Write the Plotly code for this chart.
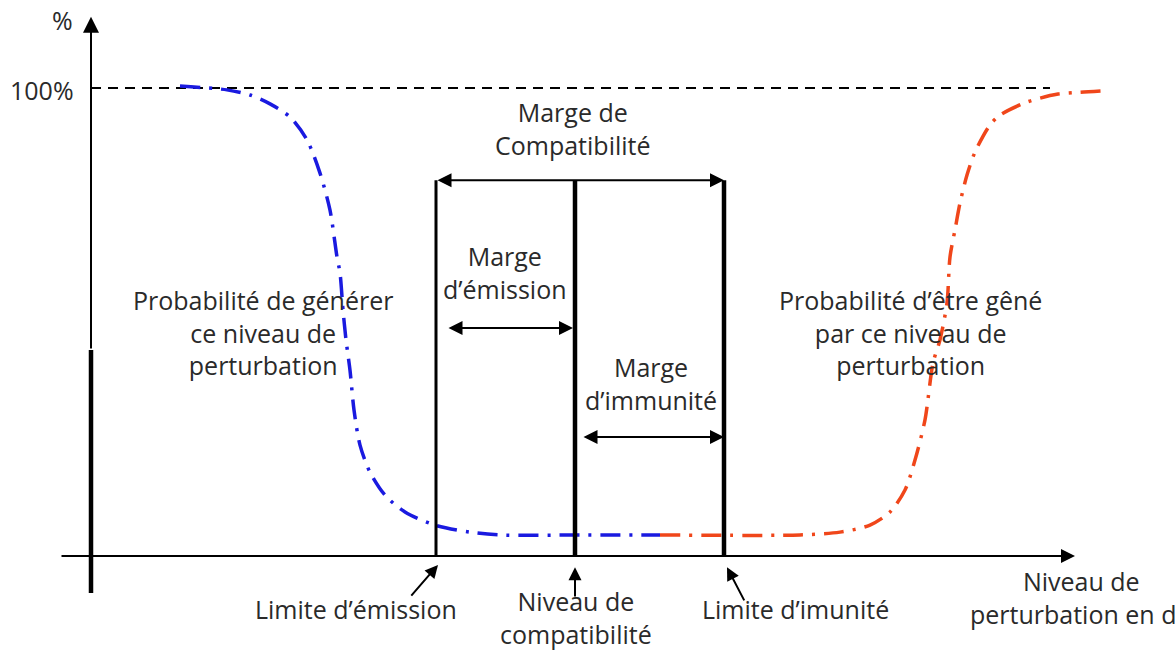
import plotly.graph_objects as go

# ---------------- data ----------------
# x : disturbance level (arbitrary units), y : probability in %
blue_x = [180, 227, 250, 270, 290, 307, 320, 330, 337, 340, 343, 346, 350, 354, 360, 370, 385, 405, 435, 470, 500, 580, 660]
blue_y = [100.4, 99.6, 98.5, 96.6, 93.8, 88.9, 81.8, 73.9, 63.9, 60.5, 52.6, 46.2, 39.7, 31.2, 23.7, 17.9, 13.0, 9.4, 6.6, 5.1, 4.5, 4.5, 4.5]

red_x = [660, 800, 840, 870, 890, 905, 915, 925, 933, 940, 947, 950, 955, 960, 967, 975, 990, 1000, 1027, 1058, 1080, 1103]
red_y = [4.5, 4.5, 5.1, 6.6, 9.4, 14.1, 20.5, 29.1, 41.2, 46.2, 54.1, 63.9, 69.7, 75.4, 81.4, 86.3, 92.1, 94.2, 97.0, 98.7, 99.1, 99.4]

ref_line_x = [91, 1050]
ref_line_y = [100, 100]

lim_emission = 436
niveau_compat = 575
lim_immunite = 724
top_margin_level = 80.3     # % level of the "Marge de Compatibilité" arrow
emission_arrow_level = 48.7
immunity_arrow_level = 25.4

x_axis_start, x_axis_end = 60, 1075
y_axis_bottom, y_axis_switch, y_axis_top = -7.9, 44.0, 115.2

# text blocks: (text, x centre, y centre, anchor)
texts = [
    ("Marge de<br>Compatibilité", 573, 91.3, "middle"),
    ("Marge<br>d\u2019émission", 505, 60.6, "middle"),
    ("Marge<br>d\u2019immunité", 651, 36.9, "middle"),
    ("Probabilité de générer<br>ce niveau de<br>perturbation", 263, 47.8, "middle"),
    ("Probabilité d\u2019être gêné<br>par ce niveau de<br>perturbation", 910, 47.8, "middle"),
    ("Limite d\u2019émission", 356, -11.3, "middle"),
    ("Niveau de<br>compatibilité", 576, -20.7, "bottom"),
    ("Limite d\u2019imunité", 795, -11.3, "middle"),
    ("Niveau de<br>perturbation en dB", 1081, -8.8, "middle"),
    ("%", 62, 114.5, "middle"),
    ("100%", 42, 99.6, "middle"),
]

# pointer arrows under the axis: (tip x, tip y, tail x, tail y)
pointers = [
    (438, -1.9, 410, -8.8),
    (575, -2.4, 575, -9.0),
    (727, -2.4, 745, -9.8),
]

# ---------------- figure ----------------
TXT = "#2a2a2a"
FONT = "Open Sans"
FS = 25

fig = go.Figure()

# 100% dashed reference
fig.add_trace(go.Scatter(x=ref_line_x, y=ref_line_y, mode="lines",
                         line=dict(color="black", width=2, dash="10px,7px"),
                         hoverinfo="skip"))
# curves
fig.add_trace(go.Scatter(x=blue_x, y=blue_y, mode="lines",
                         line=dict(color="#1a1ae0", width=3.5, dash="20px,9px,3px,9px", shape="spline", smoothing=0.8),
                         hoverinfo="skip"))
fig.add_trace(go.Scatter(x=red_x, y=red_y, mode="lines",
                         line=dict(color="#f0461a", width=3.5, dash="20px,9px,3px,9px", shape="spline", smoothing=0.8),
                         hoverinfo="skip"))

# vertical limit lines
for xv, w in [(lim_emission, 3), (niveau_compat, 4.5), (lim_immunite, 4.5)]:
    fig.add_trace(go.Scatter(x=[xv, xv], y=[0, top_margin_level], mode="lines",
                             line=dict(color="black", width=w), hoverinfo="skip"))

# thick lower part of the y axis
fig.add_trace(go.Scatter(x=[91, 91], y=[y_axis_bottom, y_axis_switch], mode="lines",
                         line=dict(color="black", width=4.5), hoverinfo="skip"))

ann = []
# y axis (thin upper part with arrow)
ann.append(dict(x=91, y=y_axis_top, ax=91, ay=y_axis_switch, xref="x", yref="y",
                axref="x", ayref="y", text="", showarrow=True, arrowhead=2,
                arrowsize=1.6, arrowwidth=2, arrowcolor="black", standoff=0))
# x axis
ann.append(dict(x=x_axis_end, y=0, ax=x_axis_start, ay=0, xref="x", yref="y",
                axref="x", ayref="y", text="", showarrow=True, arrowhead=2,
                arrowsize=1.4, arrowwidth=2, arrowcolor="black", standoff=0))

# double arrows
for x0, x1, yv in [(lim_emission, lim_immunite, top_margin_level),
                   (447, 573, emission_arrow_level),
                   (582, lim_immunite, immunity_arrow_level)]:
    ann.append(dict(x=x1, y=yv, ax=x0, ay=yv, xref="x", yref="y", axref="x", ayref="y",
                    text="", showarrow=True, arrowside="end+start",
                    arrowhead=2, startarrowhead=2, arrowsize=1.4, startarrowsize=1.4,
                    arrowwidth=2, arrowcolor="black", standoff=0, startstandoff=0))

# pointer arrows
for tx, ty, sx, sy in pointers:
    ann.append(dict(x=tx, y=ty, ax=sx, ay=sy, xref="x", yref="y", axref="x", ayref="y",
                    text="", showarrow=True, arrowhead=2, arrowsize=1.3,
                    arrowwidth=2, arrowcolor="black", standoff=0))

# texts
for txt, xc, yc, anc in texts:
    ann.append(dict(x=xc, y=yc, xref="x", yref="y", text=txt, showarrow=False,
                    xanchor="center", yanchor=anc, align="center",
                    font=dict(family=FONT, size=FS, color=TXT)))

fig.update_layout(
    width=1175, height=654,
    margin=dict(l=0, r=0, t=0, b=0),
    paper_bgcolor="white", plot_bgcolor="white",
    showlegend=False,
    xaxis=dict(range=[0, 1175], visible=False, fixedrange=True),
    yaxis=dict(range=[-20.94, 118.8], visible=False, fixedrange=True),
    annotations=ann,
)

fig.write_html("out.html", config={"displayModeBar": False},
               post_script="document.body.style.margin='0px';document.body.style.overflow='hidden';")
